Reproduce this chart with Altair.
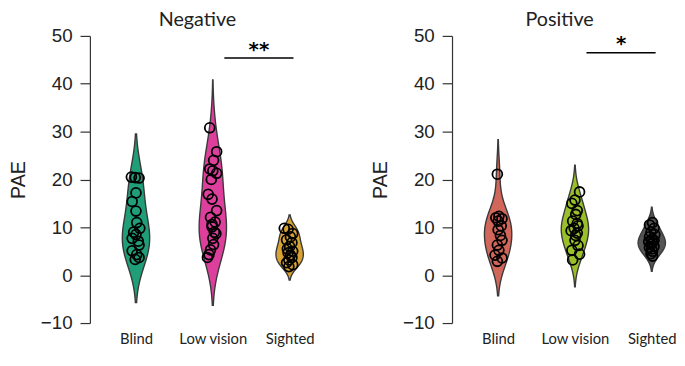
import altair as alt
import pandas as pd

categories = ["Blind", "Low vision", "Sighted"]
panel_titles = ["Negative", "Positive"]

# Negative condition (PAE values) and horizontal jitter (category units)
neg_blind = [20.5, 20.4, 20.3, 17.2, 15.4, 13.4, 11.0, 9.8, 9.0, 8.5, 7.7, 7.1, 6.3, 5.1, 4.3, 3.7, 3.3]
neg_blind_jit = [-0.06, -0.01, 0.04, 0.0, -0.05, 0.0, 0.01, 0.05, -0.03, 0.0, -0.05, 0.03, 0.04, -0.05, 0.01, 0.04, -0.01]
neg_low = [30.8, 25.8, 24.0, 22.2, 21.8, 21.3, 20.0, 16.9, 15.9, 13.5, 12.1, 11.1, 10.6, 10.1, 9.0, 8.7, 7.7, 6.4, 5.3, 4.3, 3.7]
neg_low_jit = [-0.04, 0.05, 0.01, -0.04, 0.0, 0.05, -0.02, -0.06, -0.01, 0.05, -0.03, 0.03, -0.01, -0.01, 0.02, 0.04, 0.0, 0.01, -0.03, -0.05, -0.07]
neg_sighted = [9.8, 9.6, 8.7, 8.0, 7.4, 6.8, 6.0, 5.5, 5.0, 4.7, 4.2, 3.7, 3.2, 2.6, 2.2, 1.8]
neg_sighted_jit = [-0.07, -0.02, 0.04, 0.01, -0.04, 0.03, 0.0, -0.03, 0.04, -0.02, 0.01, 0.03, -0.01, -0.04, 0.04, -0.01]

# Positive condition
pos_blind = [21.1, 12.3, 12.0, 11.8, 11.3, 10.3, 9.5, 8.3, 7.3, 6.3, 5.2, 4.2, 3.6, 2.9]
pos_blind_jit = [-0.01, 0.01, -0.03, 0.05, 0.0, 0.04, 0.0, 0.03, 0.05, -0.01, 0.01, -0.04, 0.05, -0.01]
pos_low = [17.4, 15.7, 15.0, 13.5, 12.7, 11.3, 10.8, 10.3, 9.8, 9.3, 8.8, 8.3, 7.3, 6.2, 5.2, 4.4, 3.2]
pos_low_jit = [0.06, 0.0, -0.04, 0.03, 0.01, -0.03, 0.03, 0.04, -0.01, -0.05, 0.03, 0.01, 0.0, 0.04, -0.04, 0.06, -0.03]
pos_sighted = [11.0, 10.5, 9.8, 9.0, 8.5, 8.0, 7.5, 7.3, 7.0, 6.8, 6.5, 6.0, 5.8, 5.5, 5.0, 4.5, 4.0]
pos_sighted_jit = [0.01, -0.03, 0.03, -0.01, 0.04, -0.03, 0.0, 0.03, -0.04, 0.01, -0.01, 0.03, -0.03, 0.0, 0.01, -0.01, 0.01]

# significance annotations per panel
sig_labels = ["**", "*"]
sig_start = [2.15, 2.15]
sig_end = [3.05, 3.05]
sig_line_y = [45.4, 46.5]
sig_text_y = [47.0, 48.2]

panel_values = [[neg_blind, neg_low, neg_sighted], [pos_blind, pos_low, pos_sighted]]
panel_jitter = [[neg_blind_jit, neg_low_jit, neg_sighted_jit], [pos_blind_jit, pos_low_jit, pos_sighted_jit]]

# styles
panel_colors = [["#1f9e77", "#dd3f9c", "#d9a334"], ["#d0675a", "#99bf2a", "#555555"]]
panel_bw = [[4.5, 5.0, 1.4], [3.6, 2.8, 1.6]]
HALF_W = 0.178

yscale = alt.Scale(domain=[-10, 50], nice=False, zero=False)
xscale = alt.Scale(domain=[0.4, 3.2], nice=False, zero=False)
yax = alt.Axis(values=list(range(-10, 51, 10)), tickSize=10, labelPadding=8,
               labelFontSize=19, labelFont="Liberation Sans", labelColor="#222",
               domainColor="#333", tickColor="#333", domainWidth=1.2, tickWidth=1.2,
               grid=False, title="PAE", titleFontSize=20, titleFont="Liberation Sans",
               titleFontWeight="normal", titleColor="#222", titlePadding=12)
label_expr = "[" + ",".join("'%s'" % c for c in categories) + "][datum.value - 1]"
xax = alt.Axis(values=[1, 2, 3], labelExpr=label_expr, domain=False, ticks=False, grid=False,
               title=None, labelFont="Lato", labelFontSize=15, labelColor="#222",
               labelPadding=9, labelFlush=False)


def make_panel(p):
    layers = []
    for i in range(3):
        vals = panel_values[p][i]
        bw = panel_bw[p][i]
        idx = i + 1
        lo, hi = min(vals) - 2 * bw, max(vals) + 2 * bw
        df = pd.DataFrame({"value": vals})
        area = (
            alt.Chart(df)
            .transform_density("value", as_=["value", "density"], bandwidth=bw,
                               extent=[lo, hi], steps=200)
            .transform_joinaggregate(maxd="max(density)")
            .transform_calculate(xl=f"{idx} - {HALF_W} * datum.density / datum.maxd",
                                 xr=f"{idx} + {HALF_W} * datum.density / datum.maxd")
            .mark_area(orient="horizontal", color=panel_colors[p][i], stroke="#3a3a3a",
                       strokeWidth=1.4, opacity=1)
            .encode(x=alt.X("xl:Q", scale=xscale, axis=xax), x2="xr:Q",
                    y=alt.Y("value:Q", scale=yscale, axis=yax))
        )
        layers.append(area)
    rows = []
    for i in range(3):
        for v, j in zip(panel_values[p][i], panel_jitter[p][i]):
            rows.append({"idx": i + 1, "value": v, "jit": j})
    pts = (
        alt.Chart(pd.DataFrame(rows))
        .transform_calculate(xp="datum.idx + datum.jit")
        .mark_point(shape="circle", filled=False, size=100, color="black", strokeWidth=1.8, opacity=1)
        .encode(x=alt.X("xp:Q", scale=xscale, axis=xax), y=alt.Y("value:Q", scale=yscale, axis=yax))
    )
    layers.append(pts)
    sig = pd.DataFrame({"x": [sig_start[p]], "x2": [sig_end[p]], "y": [sig_line_y[p]],
                        "ty": [sig_text_y[p]], "xm": [(sig_start[p] + sig_end[p]) / 2],
                        "lab": [sig_labels[p]]})
    rule = alt.Chart(sig).mark_rule(color="black", strokeWidth=1.6).encode(
        x=alt.X("x:Q", scale=xscale, axis=xax), x2="x2:Q", y=alt.Y("y:Q", scale=yscale, axis=yax))
    txt = alt.Chart(sig).mark_text(font="DejaVu Sans", fontSize=20, fontWeight="bold",
                                   color="black", baseline="middle").encode(
        x=alt.X("xm:Q", scale=xscale, axis=xax), y=alt.Y("ty:Q", scale=yscale, axis=yax), text="lab:N")
    layers += [rule, txt]
    return alt.layer(*layers).properties(
        width=218, height=291,
        title=alt.TitleParams(panel_titles[p], font="Lato", fontSize=20, fontWeight="normal",
                              color="#222", offset=-3))


chart = (
    alt.hconcat(make_panel(0), make_panel(1), spacing=56)
    .properties(padding=0)
    .configure_view(stroke=None)
)
chart.save("out.html", embed_options={"renderer": "svg", "actions": False})
